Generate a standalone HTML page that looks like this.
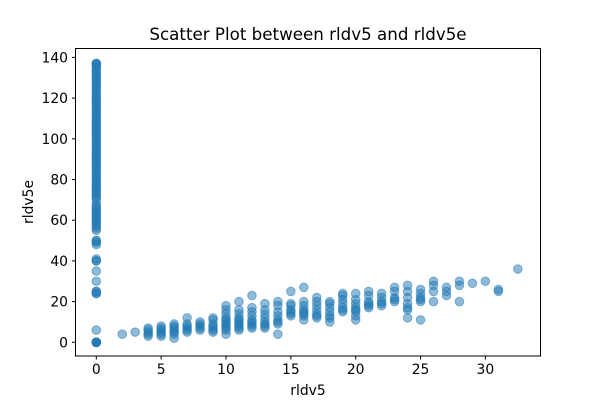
<!DOCTYPE html>
<html><head><meta charset="utf-8"><style>
body{margin:0;background:#fff}
svg text{font-family:"DejaVu Sans","Liberation Sans",sans-serif;fill:#000}
</style></head><body>
<svg id="chart" width="600" height="400" viewBox="0 0 600 400" xmlns="http://www.w3.org/2000/svg">
<rect width="600" height="400" fill="#fff"/>
<text x="308" y="40" font-size="16.7" text-anchor="middle">Scatter Plot between rldv5 and rldv5e</text>
<text x="308" y="395" font-size="13.9" text-anchor="middle">rldv5</text>
<text x="0" y="0" font-size="13.9" text-anchor="middle" transform="translate(33,202) rotate(-90)">rldv5e</text>
<g id="points"></g>
<g id="axes"></g>
<rect x="75.5" y="48.5" width="465" height="307.5" fill="none" stroke="#000" stroke-width="1"/>
</svg>
<script>
const xTicks=[0,5,10,15,20,25,30];
const yTicks=[0,20,40,60,80,100,120,140];
const zeroColY=[0,0,0,0,0,6,24,24,25,25,30,35,40,40,41,48,49,50,50,55,56,57,58,59,60,61,62,63,64,65,66,67,68,70,71,72,73,74,75,76,77,78,79,80,81,82,83,84,85,86,87,88,89,90,91,92,93,94,95,96,97,98,99,100,101,102,103,104,105,106,107,108,109,110,111,112,113,114,115,116,117,118,119,120,121,122,123,124,125,126,127,128,129,130,131,132,133,134,135,136,137,137,137];
const clusterX=[2,3,4,4,4,4,4,5,5,5,5,5,5,6,6,6,6,6,6,6,7,7,7,7,7,7,8,8,8,8,8,9,9,9,9,9,9,9,10,10,10,10,10,10,10,10,10,10,10,11,11,11,11,11,11,11,11,11,11,12,12,12,12,12,12,12,12,12,13,13,13,13,13,13,13,13,14,14,14,14,14,14,14,14,15,15,15,15,15,15,15,16,16,16,16,16,16,16,16,17,17,17,17,17,17,17,18,18,18,18,18,18,18,19,19,19,19,19,19,19,20,20,20,20,20,20,20,20,21,21,21,21,21,21,22,22,22,22,22,23,23,23,23,23,24,24,24,24,24,24,24,25,25,25,25,25,25,26,26,26,26,27,27,27,28,28,28,29,30,31,31,32.5];
const clusterY=[4,5,3,4,5,6,7,3,4,5,7,8,6,2,4,5,6,7,8,9,5,6,7,8,9,12,6,7,8,9,10,5,6,7,8,9,11,12,4,6,7,8,9,10,11,12,14,16,18,6,7,8,9,10,11,12,14,16,20,7,8,9,10,11,13,15,17,23,7,8,9,10,12,14,16,19,4,9,10,11,13,15,18,20,13,14,15,16,18,19,25,11,13,14,15,16,18,20,27,12,13,14,16,18,20,22,10,12,13,15,17,19,20,15,16,17,19,21,23,24,11,13,15,16,17,19,21,24,17,18,19,20,23,25,18,19,20,22,24,20,21,22,25,27,12,16,17,19,22,25,28,11,20,21,22,24,26,20,25,28,30,23,25,27,20,28,30,29,30,25,26,36];
const X0=96.3,XS=12.97,Y0=342.3,YS=2.035;
const xs=v=>X0+v*XS, ys=v=>Y0-v*YS;
const NS="http://www.w3.org/2000/svg";
const pg=document.getElementById('points'), ag=document.getElementById('axes');
function dot(x,y){const c=document.createElementNS(NS,'circle');
c.setAttribute('cx',xs(x));c.setAttribute('cy',ys(y));c.setAttribute('r',4.3);
c.setAttribute('fill','#1f77b4');c.setAttribute('fill-opacity','0.5');
c.setAttribute('stroke','#1f77b4');c.setAttribute('stroke-opacity','0.5');c.setAttribute('stroke-width','1');


pg.appendChild(c);}
zeroColY.forEach(y=>dot(0,y));
clusterX.forEach((x,i)=>dot(x,clusterY[i]));
xTicks.forEach(t=>{const l=document.createElementNS(NS,'line');
l.setAttribute('x1',xs(t));l.setAttribute('x2',xs(t));l.setAttribute('y1',356);l.setAttribute('y2',359.5);l.setAttribute('stroke','#000');


ag.appendChild(l);
const tx=document.createElementNS(NS,'text');tx.setAttribute('x',xs(t));tx.setAttribute('y',374);tx.setAttribute('font-size','13.9');tx.setAttribute('text-anchor','middle');tx.textContent=t;


ag.appendChild(tx);});
yTicks.forEach(t=>{const l=document.createElementNS(NS,'line');
l.setAttribute('x1',72);l.setAttribute('x2',75.5);l.setAttribute('y1',ys(t));l.setAttribute('y2',ys(t));l.setAttribute('stroke','#000');


ag.appendChild(l);
const tx=document.createElementNS(NS,'text');tx.setAttribute('x',68);tx.setAttribute('y',ys(t)+5);tx.setAttribute('font-size','13.9');tx.setAttribute('text-anchor','end');tx.textContent=t;


ag.appendChild(tx);});
</script>
</body></html>
